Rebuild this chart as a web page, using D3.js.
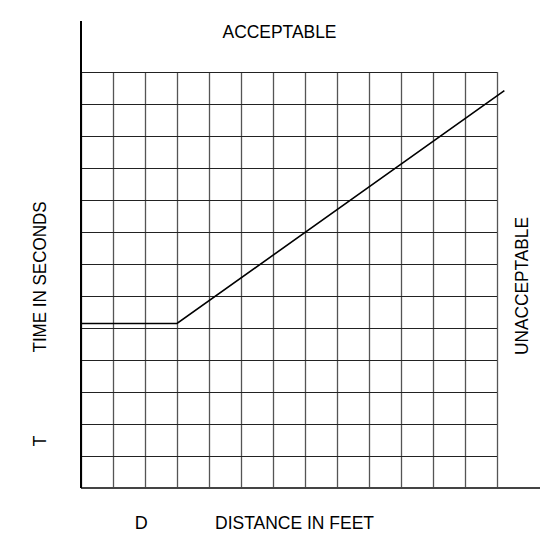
<!DOCTYPE html>
<html>
<head>
<meta charset="utf-8">
<script src="https://cdn.jsdelivr.net/npm/d3@7"></script>
<style>
  body { margin: 0; background: #fff; }
  svg text { font-family: 'Liberation Sans', Arial, sans-serif; fill: #000; }
</style>
</head>
<body>
<svg class="chart" width="540" height="535"></svg>
<script>
// grid cells along each axis
const xTicks = d3.range(0, 14)
const yTicks = d3.range(0, 14)

// the curve: flat, then rising (in grid units)
const lineX = [0, 3, 13.23]
const lineY = [5.14, 5.14, 12.42]

// letter marks on the axes
const xMarks = ['D']
const xMarkAt = [1.88]
const yMarks = ['T']
const yMarkAt = [1.47]

const svg = d3.select('.chart')

const gridLeft = 81
const gridTop = 72
const gridSize = 416

const xScale = d3.scaleLinear().domain([0, 13]).range([gridLeft, gridLeft + gridSize])
const yScale = d3.scaleLinear().domain([0, 13]).range([gridTop + gridSize, gridTop])

// vertical grid lines
svg.append('g')
  .attr('class', 'grid-x')
  .attr('transform', `translate(0, ${gridTop + gridSize})`)
  .call(d3.axisBottom(xScale)
    .tickValues(xTicks)
    .tickSize(-gridSize)
    .tickFormat(''))
  .call(g => g.select('.domain').remove())
  .call(g => g.selectAll('line').attr('stroke', '#555').attr('stroke-width', 1.3))

// horizontal grid lines
svg.append('g')
  .attr('class', 'grid-y')
  .attr('transform', `translate(${gridLeft}, 0)`)
  .call(d3.axisLeft(yScale)
    .tickValues(yTicks)
    .tickSize(-gridSize)
    .tickFormat(''))
  .call(g => g.select('.domain').remove())
  .call(g => g.selectAll('line').attr('stroke', '#222').attr('stroke-width', 1.2))

// main axes
svg.append('line')
  .attr('x1', gridLeft).attr('x2', 540)
  .attr('y1', yScale(0)).attr('y2', yScale(0))
  .attr('stroke', '#444').attr('stroke-width', 2)

svg.append('line')
  .attr('x1', gridLeft).attr('x2', gridLeft)
  .attr('y1', 21).attr('y2', yScale(0))
  .attr('stroke', '#000').attr('stroke-width', 2)

const pts = lineX.map((x, i) => [x, lineY[i]])

svg.append('path')
  .datum(pts)
  .attr('fill', 'none')
  .attr('stroke', '#000')
  .attr('stroke-width', 1.6)
  .attr('d', d3.line().x(d => xScale(d[0])).y(d => yScale(d[1])))

// labels
const fs = 18

svg.append('text')
  .attr('x', 279.5)
  .attr('y', 38)
  .attr('text-anchor', 'middle')
  .attr('font-size', fs)
  .attr('textLength', 114)
  .attr('lengthAdjust', 'spacingAndGlyphs')
  .text('ACCEPTABLE')

svg.append('text')
  .attr('x', 294.5)
  .attr('y', 529)
  .attr('text-anchor', 'middle')
  .attr('font-size', fs)
  .attr('textLength', 159)
  .attr('lengthAdjust', 'spacingAndGlyphs')
  .text('DISTANCE IN FEET')

svg.append('text')
  .attr('transform', 'translate(46, 277) rotate(-90)')
  .attr('text-anchor', 'middle')
  .attr('font-size', fs)
  .attr('textLength', 151)
  .attr('lengthAdjust', 'spacingAndGlyphs')
  .text('TIME IN SECONDS')

svg.append('text')
  .attr('transform', 'translate(528, 286) rotate(-90)')
  .attr('text-anchor', 'middle')
  .attr('font-size', fs)
  .attr('textLength', 138)
  .attr('lengthAdjust', 'spacingAndGlyphs')
  .text('UNACCEPTABLE')

xMarks.forEach((m, i) => {
  svg.append('text')
    .attr('x', xScale(xMarkAt[i]))
    .attr('y', 529)
    .attr('text-anchor', 'middle')
    .attr('font-size', fs)
    .text(m)
})

yMarks.forEach((m, i) => {
  svg.append('text')
    .attr('transform', `translate(46, ${yScale(yMarkAt[i])}) rotate(-90)`)
    .attr('text-anchor', 'middle')
    .attr('font-size', fs)
    .text(m)
})
</script>
</body>
</html>
